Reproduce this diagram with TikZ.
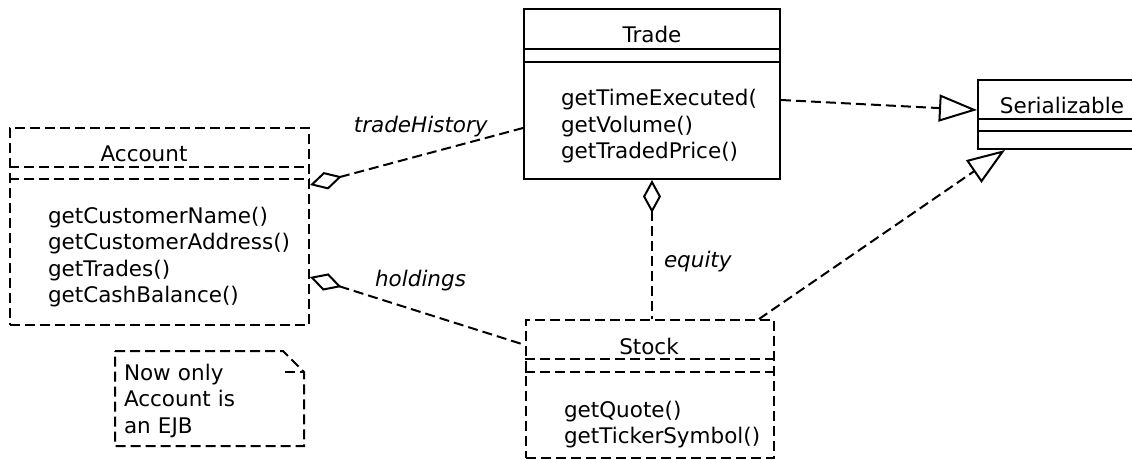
\documentclass[tikz,border=0pt]{standalone}
\usepackage{fontspec}
\setmainfont{DejaVu Sans}
\usetikzlibrary{arrows.meta}
\newcommand{\umlfont}{\fontsize{21.5}{26.5}\selectfont}
\tikzstyle{dashes}=[dash pattern=on 10pt off 5pt]
\tikzstyle{classbox}=[draw, rectangle, anchor=north west, inner sep=0pt, line width=2pt]
\tikzstyle{ejbbox}=[classbox, dashes]
\tikzstyle{classname}=[anchor=base, inner sep=0pt]
\tikzstyle{methods}=[anchor=base west, inner sep=0pt, text width=250pt, align=left]
\tikzstyle{rolename}=[anchor=base, inner sep=0pt, font=\umlfont\itshape]
\tikzstyle{aggregation}=[dashes, {Diamond[open, length=33pt, width=18pt]}-]
\tikzstyle{realization}=[dashes, -{Triangle[open, length=38pt, width=27pt]}]

\begin{document}
\begin{tikzpicture}[x=1pt, y=-1pt, line width=2pt, font=\umlfont]
            \useasboundingbox (0, 0) rectangle (1132, 459);

            % classes
            \node[ejbbox, minimum width=299pt, minimum height=197pt] (account) at (9, 127) {};
            \draw[dashes] ([yshift=-40pt]account.north west) -- ([yshift=-40pt]account.north east);
            \draw[dashes] ([yshift=-52pt]account.north west) -- ([yshift=-52pt]account.north east);
            \node[classname] (accountname) at (144, 161) {Account};
            \node[methods] (accountops) at (47, 223)
                {getCustomerName()\\getCustomerAddress()\\getTrades()\\getCashBalance()};

            \node[classbox, minimum width=256pt, minimum height=170pt] (trade) at (523, 8) {};
            \draw ([yshift=-41pt]trade.north west) -- ([yshift=-41pt]trade.north east);
            \draw ([yshift=-54pt]trade.north west) -- ([yshift=-54pt]trade.north east);
            \node[classname] (tradename) at (652, 42) {Trade};
            \node[methods] (tradeops) at (560, 105.5)
                {getTimeExecuted(\\getVolume()\\getTradedPrice()};

            \node[ejbbox, minimum width=248pt, minimum height=138pt] (stock) at (525, 319) {};
            \draw[dashes] ([yshift=-40pt]stock.north west) -- ([yshift=-40pt]stock.north east);
            \draw[dashes] ([yshift=-53pt]stock.north west) -- ([yshift=-53pt]stock.north east);
            \node[classname] (stockname) at (649, 354) {Stock};
            \node[methods] (stockops) at (563, 417)
                {getQuote()\\getTickerSymbol()};

            \node[classbox, minimum width=200pt, minimum height=69pt] (serial) at (977, 79) {};
            \draw ([yshift=-40pt]serial.north west) -- ([yshift=-40pt]serial.north east);
            \draw ([yshift=-52pt]serial.north west) -- ([yshift=-52pt]serial.north east);
            \node[classname] (serialname) at (1062, 113) {Serializable};

            % note
            \draw[dashes] (115, 351) -- (283, 351) -- (304, 372) -- (304, 446) -- (115, 446) -- cycle;
            \draw[dashes] (285, 372) -- (304, 372);
            \node[methods] (note) at (123, 380) {Now only\\Account is\\an EJB};

            % associations
            \draw[aggregation] ([yshift=-58pt]account.north east) -- ([yshift=-120pt]trade.north west)
                node[rolename, pos=0.52, yshift=23pt] (history) {tradeHistory};
            \draw[aggregation] ([yshift=-150pt]account.north east) -- ([yshift=-26pt]stock.north west)
                node[rolename, pos=0.514, yshift=25pt] (holdings) {holdings};
            \draw[aggregation] (trade.south) -- (trade.south |- stock.north)
                node[rolename, anchor=base west, pos=0.63, xshift=11pt] (equity) {equity};

            % realizations
            \draw[realization] ([yshift=-92pt]trade.north east) -- ([yshift=-31pt]serial.north west);
            \draw[realization] ([xshift=-16pt]stock.north east) -- ([xshift=28pt]serial.south west);
        \end{tikzpicture}
\end{document}
